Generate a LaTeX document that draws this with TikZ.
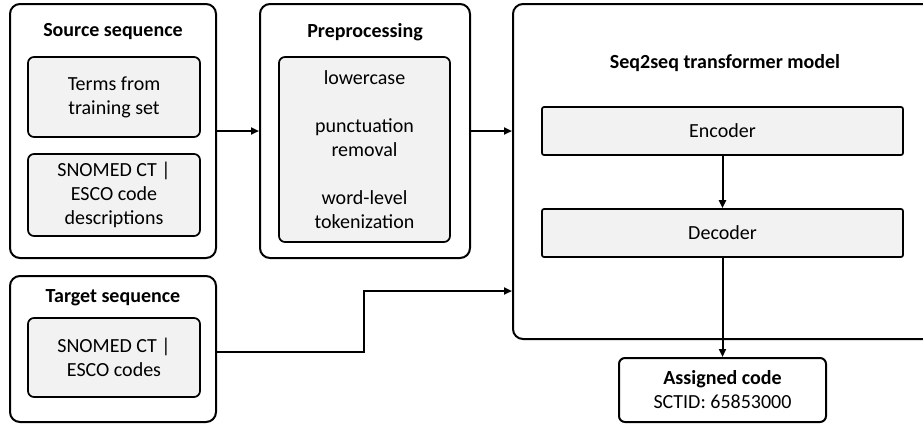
\documentclass[tikz,border=0pt]{standalone}
\usepackage{fontspec}
\setmainfont{Carlito}
\usepackage{tikz}
\usetikzlibrary{
  arrows.meta,
  positioning,
  calc
}
\usepackage{xcolor}
\definecolor{boxline}{RGB}{0, 0, 0}
\definecolor{fillIn}{RGB}{242, 242, 242}
\tikzset{
  % Tashqi konteynerlar
  outerbox/.style = {draw=boxline, line width=2pt, rounded corners=10pt, inner sep=0pt},
  codebox/.style  = {draw=boxline, line width=2pt, rounded corners=6pt, align=center, inner sep=0pt},
  % Ichki bloklar
  innerbox/.style = {draw=boxline, line width=1.7pt, fill=fillIn, rounded corners=6pt, align=center, inner sep=0pt},
  blockbox/.style = {draw=boxline, line width=1.7pt, fill=fillIn, rounded corners=2pt, inner sep=0pt},
  % Sarlavhalar
  titlelab/.style = {font=\bfseries, inner sep=1pt},
  % O'qlar
  flow/.style     = {-{Triangle[length=8pt,width=7pt]}, line width=2pt, draw=boxline},
}

\begin{document}
\fontsize{20}{24}\selectfont
\begin{tikzpicture}[x=1pt, y=-1pt]
  \clip (0,0) rectangle (923,424);
  \node[outerbox, minimum width=206pt, minimum height=254pt] (src) at (113,131) {};
  \node[titlelab] (srctitle) at (113,32) {Source sequence};
  \node[innerbox, minimum width=172pt, minimum height=80pt] (terms) at (114,97) {Terms from\\training set};
  \node[innerbox, minimum width=172pt, minimum height=82pt] (srcdesc) at (114,195) {SNOMED CT |\\ESCO code\\descriptions};

  \node[outerbox, minimum width=210pt, minimum height=254pt] (prep) at (365,131) {};
  \node[titlelab] (preptitle) at (365,32) {Preprocessing};
  \node[innerbox, minimum width=171pt, minimum height=185pt] (steps) at (364.5,149.5)
    {lowercase\\[24pt]punctuation\\removal\\[24pt]word-level\\tokenization};

  \node[outerbox, minimum width=427pt, minimum height=335pt] (model) at (726.5,171.5) {};
  \node[titlelab] (modeltitle) at (725,63) {Seq2seq transformer model};
  \node[blockbox, minimum width=361pt, minimum height=48pt] (enc) at (722.5,131) {Encoder};
  \node[blockbox, minimum width=361pt, minimum height=48pt] (dec) at (722.5,233) {Decoder};

  \node[outerbox, minimum width=206pt, minimum height=146pt] (tgt) at (113,349) {};
  \node[titlelab] (tgttitle) at (113,298) {Target sequence};
  \node[innerbox, minimum width=172pt, minimum height=79pt] (tgtcodes) at (114,357.5) {SNOMED CT |\\ESCO codes};

  \node[codebox, minimum width=207pt, minimum height=64pt] (asg) at (722.5,390) {\textbf{Assigned code}\\SCTID: 65853000};

  \draw[flow] (src) -- (prep);
  \draw[flow] (prep.east) -- (prep.east -| model.west);
  \draw[flow] (enc) -- (dec);
  \draw[flow] (dec) -- (asg);
  \coordinate (tgtbend) at (364,291);
  \draw[flow] ($(tgt.east)+(0,3)$) -| (tgtbend) -- (tgtbend -| model.west);
\end{tikzpicture}
\end{document}
